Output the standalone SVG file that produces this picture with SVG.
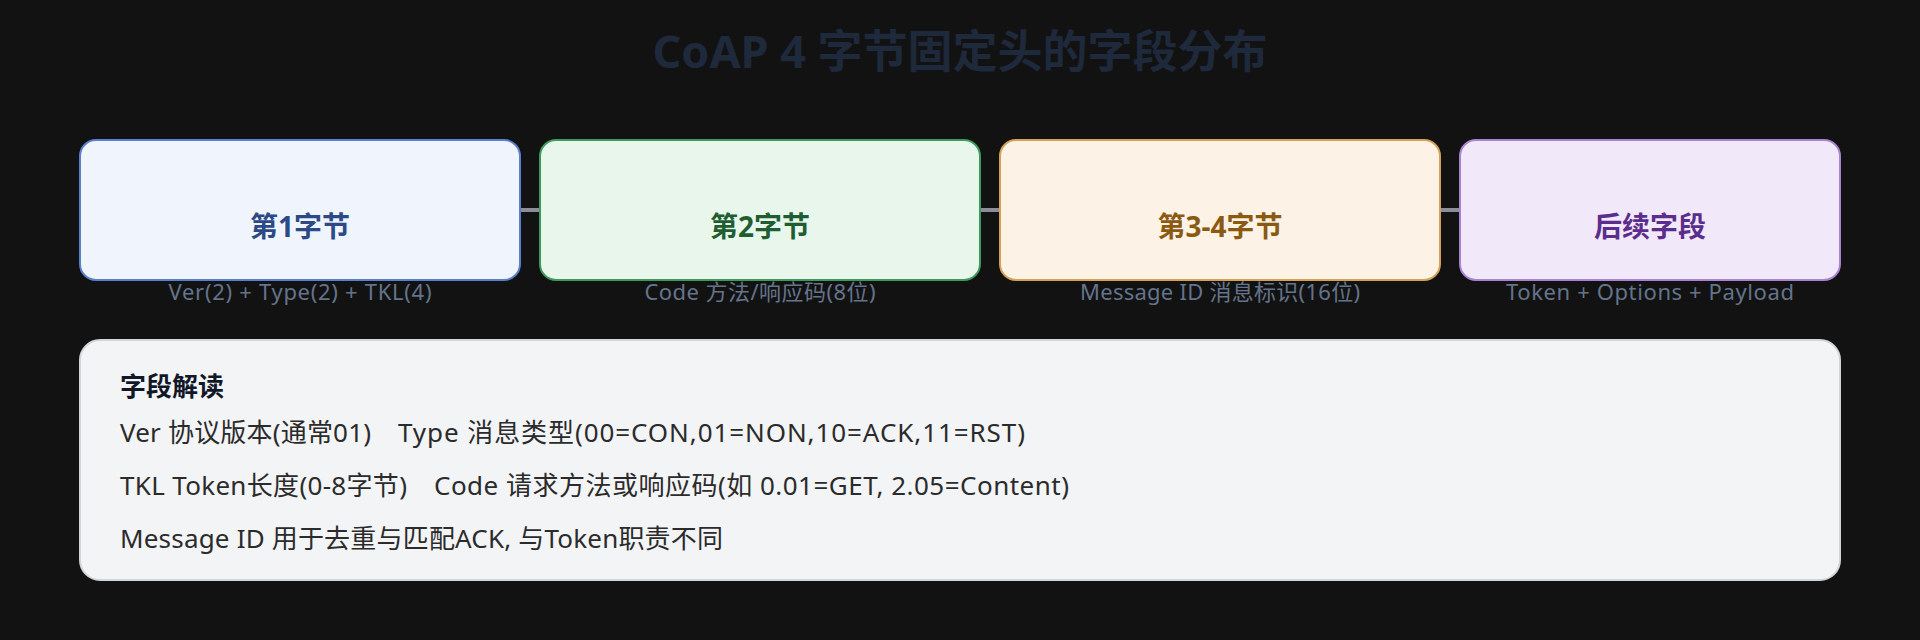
<svg xmlns="http://www.w3.org/2000/svg" width="1920" height="640" viewBox="0 0 1920 640">
  <style>
    text { font-family: "Noto Sans", "Noto Sans CJK SC", sans-serif; }
    .title { font-size: 45px; font-weight: 700; fill: #1e293b; text-anchor: middle; }
    .box { stroke-width: 2; }
    .label { font-size: 28px; font-weight: 700; text-anchor: middle; }
    .sub { font-size: 22px; fill: #64748b; text-anchor: middle; }
    .conn { stroke: #8b8e96; stroke-width: 4; fill: none; }
    .panel { fill: #f3f4f6; stroke: #d1d5db; stroke-width: 2; }
    .head { font-size: 26px; font-weight: 700; fill: #111827; }
    .body { font-size: 26px; fill: #2b2b2b; }
  </style>
  <rect x="0" y="0" width="1920" height="640" fill="#121212"/>
  <text class="title" x="960" y="68">CoAP 4 字节固定头的字段分布</text>

  <g id="connectors">
    <line class="conn" x1="520" y1="210" x2="540" y2="210"/>
    <line class="conn" x1="980" y1="210" x2="1000" y2="210"/>
    <line class="conn" x1="1440" y1="210" x2="1460" y2="210"/>
  </g>

  <g id="byte1">
    <rect class="box" x="80" y="140" width="440" height="140" rx="16" fill="#eff4fd" stroke="#5b7fcf"/>
    <text class="label" x="300" y="237" fill="#2c4a85">第1字节</text>
    <text class="sub" x="300" y="300" textLength="263" lengthAdjust="spacing">Ver(2) + Type(2) + TKL(4)</text>
  </g>
  <g id="byte2">
    <rect class="box" x="540" y="140" width="440" height="140" rx="16" fill="#e9f6ec" stroke="#3c9a5c"/>
    <text class="label" x="760" y="237" fill="#1e5e32">第2字节</text>
    <text class="sub" x="760" y="300" textLength="231" lengthAdjust="spacing">Code 方法/响应码(8位)</text>
  </g>
  <g id="byte34">
    <rect class="box" x="1000" y="140" width="440" height="140" rx="16" fill="#fdf2e6" stroke="#d4a257"/>
    <text class="label" x="1220" y="237" fill="#8a5a12">第3-4字节</text>
    <text class="sub" x="1220" y="300" textLength="280" lengthAdjust="spacing">Message ID 消息标识(16位)</text>
  </g>
  <g id="rest">
    <rect class="box" x="1460" y="140" width="380" height="140" rx="16" fill="#f1e8fa" stroke="#a883d2"/>
    <text class="label" x="1650" y="237" fill="#5b2d8c">后续字段</text>
    <text class="sub" x="1650" y="300" textLength="288" lengthAdjust="spacing">Token + Options + Payload</text>
  </g>

  <g id="notes">
    <rect class="panel" x="80" y="340" width="1760" height="240" rx="20"/>
    <text class="head" x="120" y="396">字段解读</text>
    <text class="body" x="120" y="442" xml:space="preserve"><tspan textLength="251" lengthAdjust="spacing">Ver 协议版本(通常01)</tspan> <tspan x="398" textLength="627" lengthAdjust="spacing">Type 消息类型(00=CON,01=NON,10=ACK,11=RST)</tspan></text>
    <text class="body" x="120" y="495" xml:space="preserve"><tspan textLength="287" lengthAdjust="spacing">TKL Token长度(0-8字节)</tspan> <tspan x="434" textLength="635" lengthAdjust="spacing">Code 请求方法或响应码(如 0.01=GET, 2.05=Content)</tspan></text>
    <text class="body" x="120" y="548" textLength="603" lengthAdjust="spacing">Message ID 用于去重与匹配ACK, 与Token职责不同</text>
  </g>
</svg>
